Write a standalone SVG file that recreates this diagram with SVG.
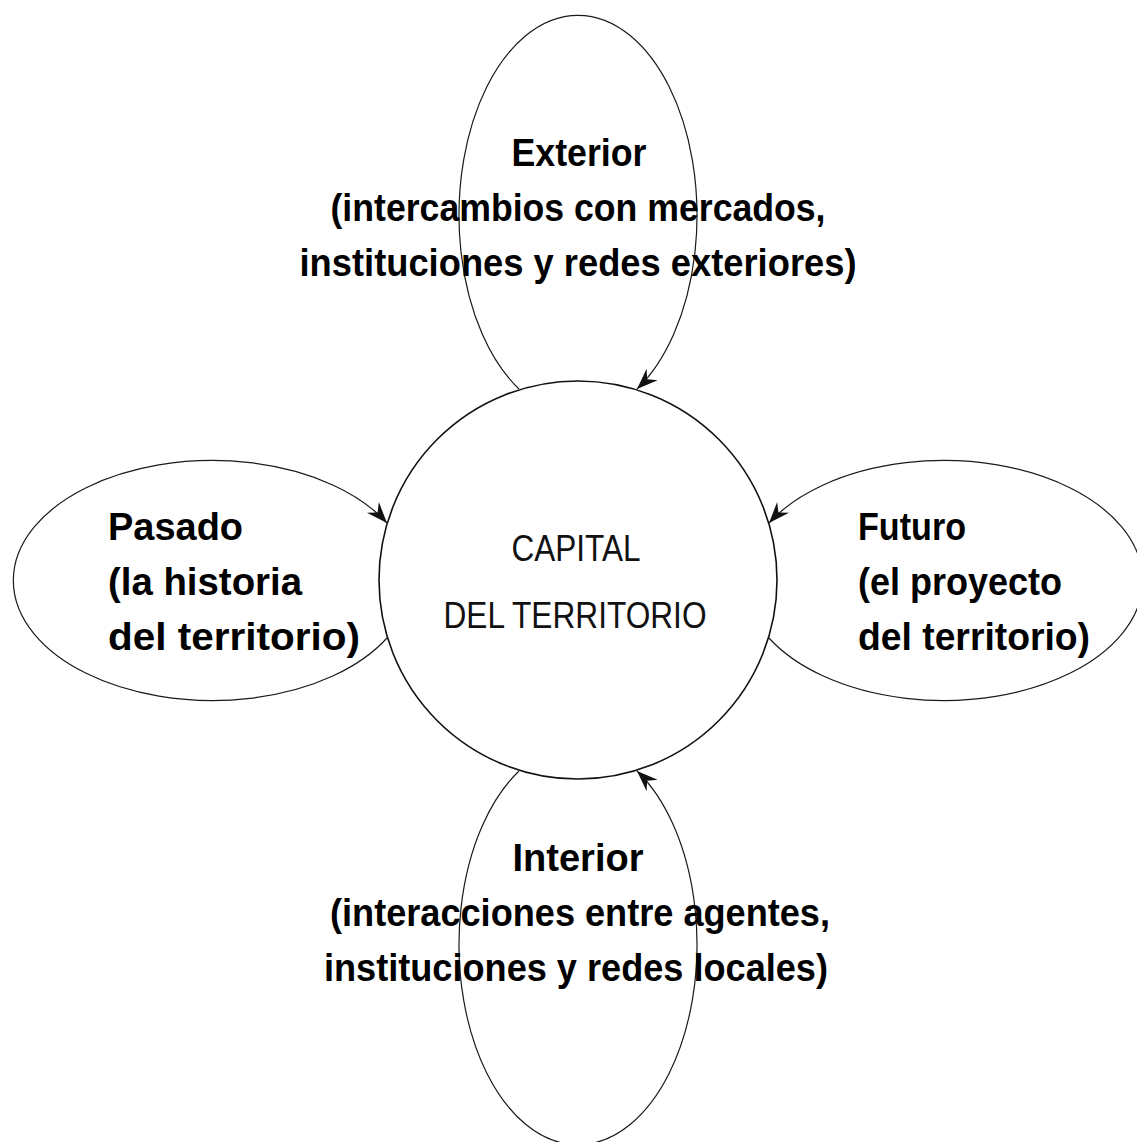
<svg xmlns="http://www.w3.org/2000/svg" width="1137" height="1142" viewBox="0 0 1137 1142">
  <style>
    .bg { fill: #ffffff; }
    .loop { fill: none; stroke: #1a1a1a; stroke-width: 1.2; }
    .core { fill: none; stroke: #111111; stroke-width: 1.6; }
    .lbl { font-family: "Liberation Sans", Arial, sans-serif; font-weight: bold; font-size: 38px; fill: #000000; }
    .ctr { font-family: "Liberation Sans", Arial, sans-serif; font-weight: normal; font-size: 37px; fill: #111111; }
  </style>
  <defs>
    <marker id="arrow" markerUnits="userSpaceOnUse" viewBox="-22 -9 23 18" markerWidth="23" markerHeight="18" refX="0" refY="0" orient="auto">
      <path d="M0,0 L-21,-8 L-14,0 L-21,8 Z" fill="#111111"/>
    </marker>
  </defs>
  <rect class="bg" x="0" y="0" width="1137" height="1142"/>

  <g id="connectors">
    <path id="loop-exterior" class="loop" d="M 519 389 A 119 200 0 1 1 637 389" marker-end="url(#arrow)"/>
    <path id="loop-pasado" class="loop" d="M 387 638 A 199 120 0 1 1 387 523" marker-end="url(#arrow)"/>
    <path id="loop-futuro" class="loop" d="M 769 638 A 199 120 0 1 0 769 523" marker-end="url(#arrow)"/>
    <path id="loop-interior" class="loop" d="M 519 771 A 119 200 0 1 0 637 771" marker-end="url(#arrow)"/>
  </g>

  <g id="node-capital">
    <circle class="core" cx="578" cy="580" r="199"/>
    <text class="ctr" x="576" y="561" text-anchor="middle" textLength="129" lengthAdjust="spacingAndGlyphs">CAPITAL</text>
    <text class="ctr" x="575" y="628" text-anchor="middle" textLength="263" lengthAdjust="spacingAndGlyphs">DEL TERRITORIO</text>
  </g>

  <g id="node-exterior">
    <text class="lbl" x="579" y="166" text-anchor="middle" textLength="135" lengthAdjust="spacingAndGlyphs">Exterior</text>
    <text class="lbl" x="578" y="221" text-anchor="middle" textLength="495" lengthAdjust="spacingAndGlyphs">(intercambios con mercados,</text>
    <text class="lbl" x="578" y="276" text-anchor="middle" textLength="557" lengthAdjust="spacingAndGlyphs">instituciones y redes exteriores)</text>
  </g>

  <g id="node-pasado">
    <text class="lbl" x="108" y="540" textLength="135" lengthAdjust="spacingAndGlyphs">Pasado</text>
    <text class="lbl" x="108" y="595" textLength="194" lengthAdjust="spacingAndGlyphs">(la historia</text>
    <text class="lbl" x="108" y="650" textLength="252" lengthAdjust="spacingAndGlyphs">del territorio)</text>
  </g>

  <g id="node-futuro">
    <text class="lbl" x="858" y="540" textLength="108" lengthAdjust="spacingAndGlyphs">Futuro</text>
    <text class="lbl" x="858" y="595" textLength="204" lengthAdjust="spacingAndGlyphs">(el proyecto</text>
    <text class="lbl" x="858" y="650" textLength="232" lengthAdjust="spacingAndGlyphs">del territorio)</text>
  </g>

  <g id="node-interior">
    <text class="lbl" x="578" y="871" text-anchor="middle" textLength="131" lengthAdjust="spacingAndGlyphs">Interior</text>
    <text class="lbl" x="580" y="926" text-anchor="middle" textLength="500" lengthAdjust="spacingAndGlyphs">(interacciones entre agentes,</text>
    <text class="lbl" x="576" y="981" text-anchor="middle" textLength="504" lengthAdjust="spacingAndGlyphs">instituciones y redes locales)</text>
  </g>
</svg>
